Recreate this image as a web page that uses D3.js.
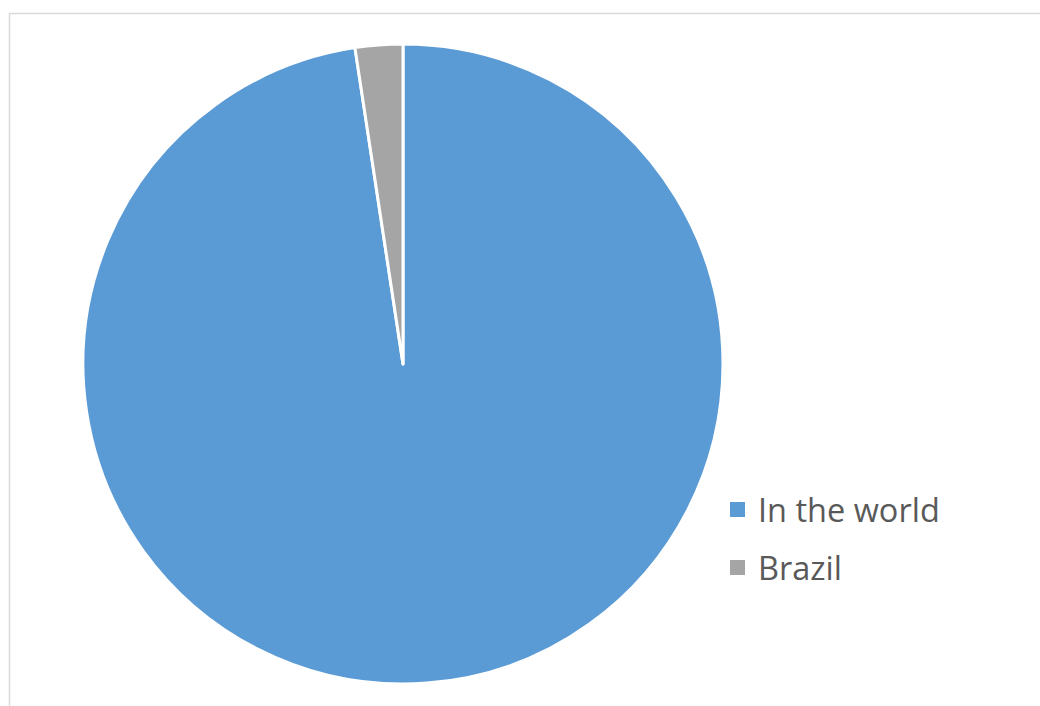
<!DOCTYPE html>
<html>
<head>
<meta charset="utf-8">
<script src="https://cdn.jsdelivr.net/npm/d3@7"></script>
<style>
  html, body { margin: 0; padding: 0; background: #fff; }
  svg { display: block; }
</style>
</head>
<body>
<div id="chart"></div>
<script>
const categories = ["In the world", "Brazil"];
const values = [97.6, 2.4];
const colors = ["#5B9BD5", "#A5A5A5"];

const width = 1040;
const height = 706;
const cx = 403;
const cy = 364;
const radius = 320;

const svg = d3.select("#chart")
  .append("svg")
  .attr("width", width)
  .attr("height", height);

// chart frame (runs off the right and bottom edges)
svg.append("rect")
  .attr("x", 9.5)
  .attr("y", 13.5)
  .attr("width", width + 20)
  .attr("height", height + 20)
  .attr("fill", "#fff")
  .attr("stroke", "#d9d9d9")
  .attr("stroke-width", 1.5);

const pie = d3.pie().value(d => d).sort(null);
const arc = d3.arc().innerRadius(0).outerRadius(radius);

const g = svg.append("g")
  .attr("transform", "translate(" + cx + "," + cy + ")");

g.selectAll("path")
  .data(pie(values))
  .enter()
  .append("path")
  .attr("d", arc)
  .attr("fill", (d, i) => colors[i])
  .attr("stroke", "#fff")
  .attr("stroke-width", 3)
  .attr("stroke-linejoin", "round");

// legend
const legend = svg.append("g")
  .attr("transform", "translate(730,496)");

const item = legend.selectAll("g")
  .data(categories)
  .enter()
  .append("g")
  .attr("transform", (d, i) => "translate(0," + i * 58 + ")");

item.append("rect")
  .attr("x", 0)
  .attr("y", 6)
  .attr("width", 15)
  .attr("height", 15)
  .attr("fill", (d, i) => colors[i]);

item.append("text")
  .attr("x", 28)
  .attr("y", 25.5)
  .text(d => d)
  .style("font-family", "'Open Sans', Lato, sans-serif")
  .style("font-size", "32.5px")
  .style("fill", "#595959");
</script>
</body>
</html>
